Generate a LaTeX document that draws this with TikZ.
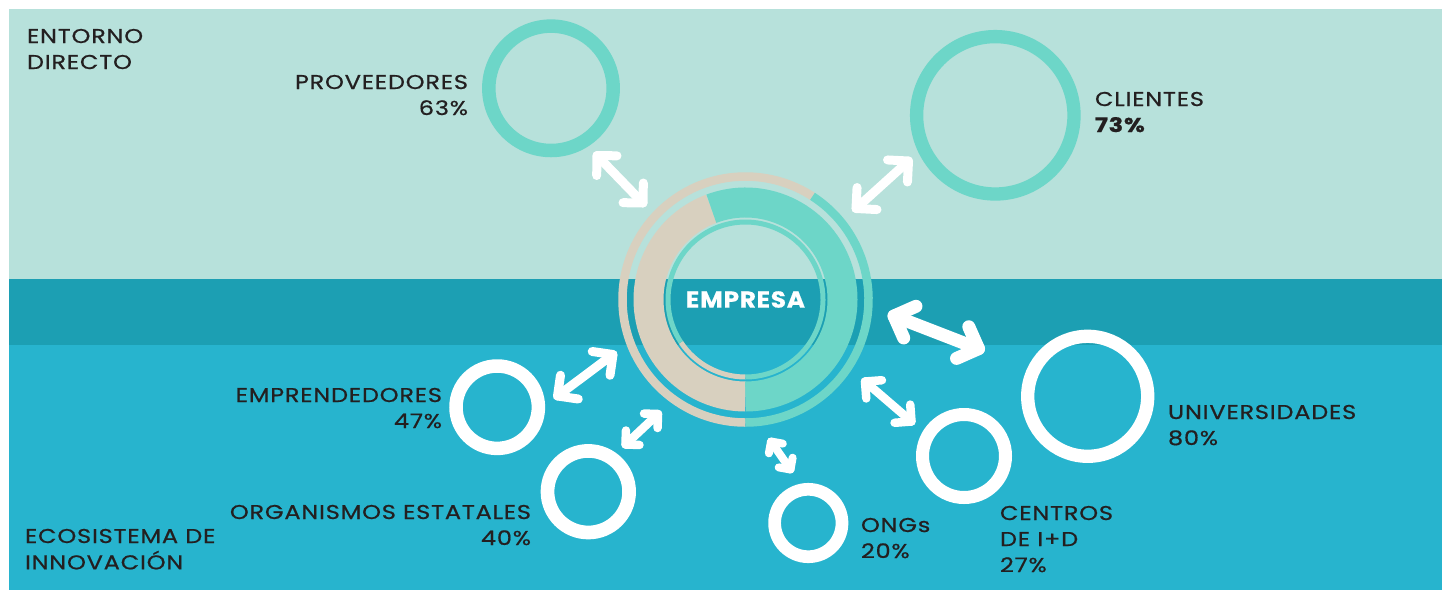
\documentclass[tikz,border=0pt]{standalone}
\usepackage{fontspec}
\setmainfont{Poppins}
\newfontfamily\lblfont{Poppins}[FakeStretch=1.2, LetterSpace=4, FakeBold=0.7]
\newfontfamily\empfont{Poppins}[FakeStretch=1.08, LetterSpace=3, FakeBold=0.5]
\usetikzlibrary{calc}
\definecolor{topc}{HTML}{B7E1DB}
\definecolor{midc}{HTML}{1C9FB3}
\definecolor{botc}{HTML}{27B4CE}
\definecolor{tealc}{HTML}{6DD6C8}
\definecolor{beigec}{HTML}{D8D0BF}
\definecolor{txtc}{HTML}{231F20}
\tikzset{
  ringnode/.style={circle, inner sep=0pt, outer sep=0pt, draw=#1},
  lbl/.style={inner sep=0pt, outer sep=0pt, text=txtc, font=\lblfont\fontsize{20}{26}\selectfont},
  arrw/.style={draw=white, line cap=round, line join=round},
  arcstyle/.style={line cap=butt}
}
\newcommand{\dblarr}[4]{%
  \draw[arrw, line width=#4] (#1) -- (#2);
  \draw[arrw, line width=#4] ($(#1)!#3!45:(#2)$) -- (#1) -- ($(#1)!#3!-45:(#2)$);
  \draw[arrw, line width=#4] ($(#2)!#3!45:(#1)$) -- (#2) -- ($(#2)!#3!-45:(#1)$);
}
\begin{document}
\begin{tikzpicture}[x=1pt,y=-1pt]
\useasboundingbox (0,0) rectangle (1442,590);
\fill[white] (0,0) rectangle (1442,590);
\fill[topc] (9,9) rectangle (1442,279);
\fill[midc] (9,279) rectangle (1442,345);
\fill[botc] (9,345) rectangle (1442,590);

% central rings
\coordinate (c) at (745.5,299.5);
\draw[arcstyle, beigec, line width=8.5pt] ($(c)+(90:123)$) arc[start angle=90, end angle=303, radius=123];
\draw[arcstyle, tealc, line width=8.5pt] ($(c)+(-57:123)$) arc[start angle=-57, end angle=90, radius=123];
\draw[arcstyle, beigec, line width=30pt] ($(c)+(90:97)$) arc[start angle=90, end angle=249.4, radius=97];
\draw[arcstyle, tealc, line width=30pt] ($(c)+(-110.6:97)$) arc[start angle=-110.6, end angle=90, radius=97];
\draw[arcstyle, beigec, line width=5pt] ($(c)+(90:77.5)$) arc[start angle=90, end angle=146.5, radius=77.5];
\draw[arcstyle, tealc, line width=5pt] ($(c)+(146.5:77.5)$) arc[start angle=146.5, end angle=450, radius=77.5];
\node[text=white, font=\empfont\bfseries\fontsize{23}{23}\selectfont, inner sep=0pt] (emp) at (c) {EMPRESA};

% satellite rings
\node[ringnode=tealc, line width=13.5pt, minimum size=124.4pt] (prov) at (551,88.3) {};
\node[ringnode=tealc, line width=13.3pt, minimum size=157.4pt] (cli) at (995.3,115.3) {};
\node[ringnode=white, line width=13.5pt, minimum size=82.4pt] (empr) at (497.2,407.2) {};
\node[ringnode=white, line width=13.7pt, minimum size=81.6pt] (org) at (588.3,491.7) {};
\node[ringnode=white, line width=13.3pt, minimum size=120pt] (univ) at (1087.7,396.3) {};
\node[ringnode=white, line width=12.7pt, minimum size=67.4pt] (ong) at (808.3,523) {};
\node[ringnode=white, line width=13pt, minimum size=83pt] (cen) at (964,456) {};

% arrow end points
\coordinate (pA) at (597,155.5);   \coordinate (pB) at (643,203);
\coordinate (cA) at (908.5,161);   \coordinate (cB) at (856,208.5);
\coordinate (eA) at (613,354.5);   \coordinate (eB) at (557.5,396);
\coordinate (oA) at (658,414);     \coordinate (oB) at (625.5,444.5);
\coordinate (uA) at (894,316);     \coordinate (uB) at (978.5,348.7);
\coordinate (nA) at (865,381.5);   \coordinate (nB) at (911.5,421.5);
\coordinate (gA) at (771,441.5);   \coordinate (gB) at (790.5,469.5);
\dblarr{pA}{pB}{20pt}{9pt}
\dblarr{cA}{cB}{21pt}{9pt}
\dblarr{eA}{eB}{21pt}{9pt}
\dblarr{oA}{oB}{14pt}{8.5pt}
\dblarr{uA}{uB}{24pt}{13pt}
\dblarr{nA}{nB}{17pt}{8.5pt}
\dblarr{gA}{gB}{12pt}{8pt}

% labels
\node[lbl, anchor=base west] (lent) at (27,43) {\begin{tabular}[t]{@{}l@{}}ENTORNO\\DIRECTO\end{tabular}};
\node[lbl, anchor=base west] (leco) at (25,543) {\begin{tabular}[t]{@{}l@{}}ECOSISTEMA DE\\INNOVACIÓN\end{tabular}};
\node[lbl, anchor=base east] (lprov) at (468,89) {\begin{tabular}[t]{@{}r@{}}PROVEEDORES\\63\%\end{tabular}};
\node[lbl, anchor=base west] (lcli) at (1095,106) {\begin{tabular}[t]{@{}l@{}}CLIENTES\\\textbf{73\%}\end{tabular}};
\node[lbl, anchor=base east] (lempr) at (442,402) {\begin{tabular}[t]{@{}r@{}}EMPRENDEDORES\\47\%\end{tabular}};
\node[lbl, anchor=base east] (lorg) at (531,519) {\begin{tabular}[t]{@{}r@{}}ORGANISMOS ESTATALES\\40\%\end{tabular}};
\node[lbl, anchor=base west] (long) at (861,532) {\begin{tabular}[t]{@{}l@{}}ONGs\\20\%\end{tabular}};
\node[lbl, anchor=base west] (lcen) at (1000,520) {\begin{tabular}[t]{@{}l@{}}CENTROS\\DE I+D\\27\%\end{tabular}};
\node[lbl, anchor=base west] (luniv) at (1168,419) {\begin{tabular}[t]{@{}l@{}}UNIVERSIDADES\\80\%\end{tabular}};
\end{tikzpicture}
\end{document}
